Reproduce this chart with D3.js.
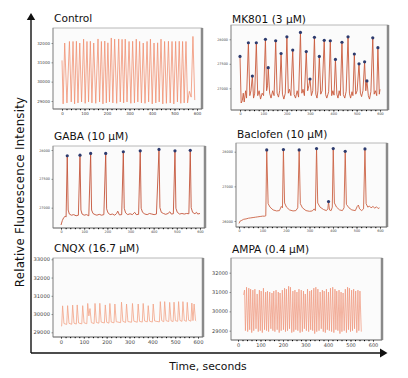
<!DOCTYPE html>
<html>
<head>
<meta charset="utf-8">
<script src="https://cdn.jsdelivr.net/npm/d3@7"></script>
<style>
  html, body { margin: 0; padding: 0; background: #fff; }
  svg { display: block; font-family: "DejaVu Sans", sans-serif; }
</style>
</head>
<body>
<svg id="chart" width="408" height="378"></svg>
<script>
// values, time in seconds, intensity in raw units
const controlPeakT = [12,33,49,64,79,96,111,126,141,160,175,190,204,219,234,252,267,281,298,314,330,345,361,378,393,409,425,440,456,473,489,505,521,536,551,566,582];
const controlPeakV = [32000,32080,32080,32090,32000,32200,32080,32090,32000,32210,32080,32100,32010,32260,32200,32210,32190,32200,32080,32090,32200,32080,32000,32080,32200,32000,32010,32200,32080,32090,32080,32080,32090,32080,32080,29500,32340];
const controlBaseT = [0,5,22,41,56,71,87,103,118,133,150,167,182,197,211,226,243,259,274,289,306,322,337,353,369,385,401,417,432,448,464,481,497,513,528,543,558,574,590];
const controlBaseV = [31100,28850,28900,28950,28850,28900,28950,28880,28950,28900,28880,28950,28850,28900,28950,28900,28880,28950,28900,28950,28880,28900,28950,28900,28880,28950,28850,28900,28950,28850,28880,28900,28850,28950,28880,28900,28900,29200,29050];

const mk801PeakT = [0,36,53,70,109,121,153,176,201,226,259,284,300,319,340,361,387,409,437,463,490,510,534,544,569,591];
const mk801PeakV = [27650,27930,27250,27930,28000,27420,27970,27710,28050,27780,28140,27750,27190,28040,27650,27980,27970,27590,27940,28050,27700,27500,27540,27150,28030,27830];
const mk801BaseT = [5,10,14,18,24,28,42,47,58,63,76,82,88,95,101,114,118,127,133,140,146,159,165,170,182,188,194,207,212,218,232,238,245,251,265,270,276,290,295,306,312,325,330,334,346,352,367,372,380,393,398,403,415,420,425,430,443,449,455,469,474,480,484,496,502,516,521,527,539,550,555,561,575,580,586,597,600];
const mk801BaseV = [26700,26750,26900,26720,26950,26800,26850,26950,26800,26900,26850,26950,26780,26900,26850,26950,27050,26900,26800,26950,26850,26900,26820,26950,26880,26780,26900,26900,26980,26850,26870,26800,26950,26820,26900,26980,26850,26950,27050,26850,26950,26880,26800,26950,26880,26950,26870,26800,26930,26850,26950,26860,26880,26800,26950,26850,26870,26800,26940,26900,26800,26930,26850,26880,26950,26900,26830,26950,26950,26850,26780,26930,26880,26950,26850,26880,26980];

const gabaPeakT = [27,82,128,193,269,342,423,492,558];
const gabaPeakV = [27900,27910,27940,27940,27970,27985,28010,27985,27995];
const gabaBaseT = [0,6,12,18,22,31,36,45,55,65,75,86,91,100,110,120,132,138,147,155,165,175,185,197,203,212,222,232,240,245,252,262,273,279,288,298,308,318,325,335,346,352,362,372,382,392,402,412,427,433,442,452,462,470,476,485,496,502,512,522,532,542,552,562,568,578,585,590,600];
const gabaBaseV = [26700,26780,26830,26850,26840,26960,26890,26870,26880,26860,26870,26960,26890,26870,26880,26860,26960,26900,26880,26870,26885,26870,26880,26980,26910,26880,26890,26870,26900,26940,26875,26880,26990,26910,26880,26895,26880,26920,26880,26885,26990,26920,26890,26880,26900,26890,26880,26890,27000,26920,26900,26885,26900,26930,26890,26895,26990,26920,26890,26900,26890,26900,26895,27000,26920,26895,26920,26890,26900];

const baclofenPeakT = [118,189,256,330,381,401,452,536];
const baclofenPeakV = [28050,28060,28050,28090,26560,28090,28010,28080];
const baclofenBaseT = [0,5,12,20,30,40,50,60,70,80,90,100,110,114,124,132,145,160,172,180,185,194,202,215,230,242,250,261,270,285,300,312,320,325,335,345,360,372,378,385,392,397,406,415,428,440,447,457,468,480,495,503,508,513,522,530,541,548,555,562,570,578,585,592,598];
const baclofenBaseV = [25930,26000,26020,26050,26060,26080,26090,26100,26110,26120,26130,26140,26140,26150,26500,26400,26320,26290,26300,26420,26380,26520,26400,26320,26290,26300,26380,26500,26380,26300,26280,26290,26350,26300,26520,26400,26330,26300,26350,26320,26300,26400,26520,26400,26320,26300,26380,26480,26380,26320,26300,26420,26460,26350,26300,26350,26500,26400,26430,26380,26420,26370,26410,26360,26380];

const cnqxPeakT = [7,29,51,71,95,117,127,149,170,194,214,236,265,287,313,338,360,382,404,435,454,476,495,515,534,553,573,583];
const cnqxPeakV = [30450,30460,30490,30500,30460,30580,30300,30580,30590,30500,30580,30550,30650,30550,30580,30550,30580,30460,30550,30680,30680,30640,30650,30680,30680,30640,30600,30550];
const cnqxBaseT = [0,3,13,25,35,47,57,67,77,91,101,113,122,133,145,155,166,176,190,200,210,220,232,242,261,271,283,293,309,319,334,344,356,366,378,388,400,410,431,441,450,460,472,482,491,501,511,521,530,540,549,559,569,578,589,592];
const cnqxBaseV = [29330,29350,29480,29430,29490,29440,29500,29450,29510,29460,29520,29470,29900,29530,29480,29540,29500,29560,29510,29550,29500,29560,29520,29580,29530,29600,29540,29590,29550,29610,29550,29600,29560,29620,29570,29610,29560,29620,29570,29640,29580,29640,29590,29630,29590,29640,29600,29650,29600,29650,29600,29660,29610,29640,29650,29620];

const ampaPeakT = [29,38,48,56,66,75,85,95,103,113,123,131,141,151,159,169,179,187,197,207,215,225,233,244,253,262,271,281,291,299,309,319,327,337,346,355,365,375,383,393,402,411,421,431,439,449,458,467,477,487,495,505,514,523,533,542];
const ampaPeakV = [31100,31250,31200,31150,31100,31150,30900,31100,31050,31200,31000,31050,31000,30950,31050,31100,31000,30950,31100,31200,31150,31300,31250,31050,31100,31000,31150,31100,31050,30900,31150,31050,31100,31200,31250,31150,31000,31100,31050,31150,31000,31200,31250,31150,31050,31100,31000,30950,31150,31250,31200,31100,31150,31050,31100,31050];
const ampaBaseT = [25,33,43,52,61,70,80,90,99,108,118,127,136,146,155,164,174,183,192,202,211,220,229,239,248,257,266,276,286,295,304,314,323,332,341,350,360,370,379,388,397,406,416,426,435,444,453,462,472,482,491,500,509,518,528,537,548];
const ampaBaseV = [30850,29000,28950,29050,28900,29000,29100,28950,29000,28900,29050,29000,28950,29100,29000,28950,29050,28900,29000,29050,28950,29000,29100,28900,28950,29050,29000,28900,28950,29100,29000,28950,29050,29000,28850,28950,29000,29100,28950,28900,29050,29000,28950,28900,29050,29000,28850,28950,29000,28900,29050,28950,29000,29100,28900,29000,28950];

const timeTicks = [0,100,200,300,400,500,600];
const controlTicks = [32000,31000,30000,29000];
const mk801Ticks = [28000,27500,27000];
const gabaTicks = [28000,27500,27000];
const baclofenTicks = [28000,27000,26000];
const cnqxTicks = [33000,32000,31000,30000,29000];
const ampaTicks = [32000,31000,30000,29000];

const panels = [
  { title: "Control", pt: controlPeakT, pv: controlPeakV, bt: controlBaseT, bv: controlBaseV, ticks: controlTicks,
    dots: false, color: "#f08c6c", lw: 0.75,
    frame: [53, 28, 202, 109], xr: [62, 197], ya: [32000, 43], yb: [29000, 101], titleY: 22, tickFont: 4 },
  { title: "MK801 (3 µM)", pt: mk801PeakT, pv: mk801PeakV, bt: mk801BaseT, bv: mk801BaseV, ticks: mk801Ticks,
    dots: true, color: "#c95a3c", lw: 0.9,
    frame: [231, 25, 388, 110], xr: [240, 380], ya: [28000, 39.3], yb: [27000, 88.3], titleY: 22.5, tickFont: 3.4 },
  { title: "GABA (10 µM)", pt: gabaPeakT, pv: gabaPeakV, bt: gabaBaseT, bv: gabaBaseV, ticks: gabaTicks,
    dots: true, color: "#c4553a", lw: 0.9,
    frame: [53, 146, 205, 228], xr: [61, 200], ya: [28000, 150], yb: [27000, 207.7], titleY: 139.5, tickFont: 3.4 },
  { title: "Baclofen (10 µM)", pt: baclofenPeakT, pv: baclofenPeakV, bt: baclofenBaseT, bv: baclofenBaseV, ticks: baclofenTicks,
    dots: true, color: "#cc6345", lw: 0.9,
    frame: [236, 143, 387, 227], xr: [239, 380], ya: [28000, 151.7], yb: [26000, 221], titleY: 138, tickFont: 3.4 },
  { title: "CNQX (16.7 µM)", pt: cnqxPeakT, pv: cnqxPeakV, bt: cnqxBaseT, bv: cnqxBaseV, ticks: cnqxTicks,
    dots: false, color: "#f2a387", lw: 0.8,
    frame: [53, 258, 203, 337], xr: [61, 198], ya: [33000, 259.3], yb: [29000, 332.3], titleY: 252, tickFont: 5.2 },
  { title: "AMPA (0.4 µM)", pt: ampaPeakT, pv: ampaPeakV, bt: ampaBaseT, bv: ampaBaseV, ticks: ampaTicks,
    dots: false, color: "#ef9478", lw: 0.7,
    frame: [231, 258, 382, 340], xr: [238, 373], ya: [32000, 272.7], yb: [29000, 330.7], titleY: 253, tickFont: 5 }
];

const svg = d3.select("#chart");

function tracePoints(p) {
  const peaks = p.pt.map((t, i) => [t, p.pv[i]]);
  const base = p.bt.map((t, i) => [t, p.bv[i]]);
  return peaks.concat(base).sort((a, b) => a[0] - b[0]);
}

panels.forEach((p) => {
  const [fx0, fy0, fx1, fy1] = p.frame;
  const x = d3.scaleLinear().domain([0, 600]).range(p.xr);
  const y = d3.scaleLinear().domain([p.ya[0], p.yb[0]]).range([p.ya[1], p.yb[1]]);
  const g = svg.append("g");

  g.append("text")
    .attr("x", fx0 + 1)
    .attr("y", p.titleY)
    .attr("font-size", 10.6)
    .attr("fill", "#111")
    .text(p.title);

  g.append("rect")
    .attr("x", fx0).attr("y", fy0)
    .attr("width", fx1 - fx0).attr("height", fy1 - fy0)
    .attr("fill", "#fbfbfb")
    .attr("stroke", "#a8a8a8")
    .attr("stroke-width", 0.8);

  g.append("line")
    .attr("x1", fx1).attr("x2", fx1)
    .attr("y1", fy0).attr("y2", fy1)
    .attr("stroke", "#8a8a8a")
    .attr("stroke-width", 2.5);

  // minor ticks first, then the labelled ones
  const xMinor = d3.axisBottom(x).tickValues(d3.range(0, 601, 20)).tickSize(1.2).tickFormat("");
  g.append("g").attr("transform", `translate(0,${fy1})`).call(xMinor)
    .call((a) => a.select(".domain").attr("stroke", "#666").attr("stroke-width", 0.8)
      .attr("d", `M${fx0},0H${fx1}`));
  g.append("g").attr("transform", `translate(0,${fy1})`)
    .call(d3.axisBottom(x).tickValues(timeTicks).tickSize(2).tickPadding(1))
    .call((a) => a.select(".domain").remove())
    .call((a) => a.selectAll("line").attr("stroke", "#555").attr("stroke-width", 0.6))
    .call((a) => a.selectAll("text").attr("font-size", p.tickFont).attr("fill", "#444")
      .attr("font-family", "DejaVu Sans"));

  g.append("g").attr("transform", `translate(${fx0},0)`)
    .call(d3.axisLeft(y).tickValues(p.ticks).tickSize(1.5).tickPadding(1.5).tickFormat(d3.format("d")))
    .call((a) => a.select(".domain").attr("stroke", "#777").attr("stroke-width", 0.6)
      .attr("d", `M0,${fy0}V${fy1}`))
    .call((a) => a.selectAll("line").attr("stroke", "#555").attr("stroke-width", 0.6))
    .call((a) => a.selectAll("text").attr("font-size", p.tickFont).attr("fill", "#444")
      .attr("font-family", "DejaVu Sans"));

  const line = d3.line().x((d) => x(d[0])).y((d) => y(d[1]));
  g.append("path")
    .datum(tracePoints(p))
    .attr("d", line)
    .attr("fill", "none")
    .attr("stroke", p.color)
    .attr("stroke-width", p.lw)
    .attr("stroke-linejoin", "round");

  if (p.dots) {
    g.selectAll("circle")
      .data(p.pt.map((t, i) => [t, p.pv[i]]))
      .join("circle")
      .attr("cx", (d) => x(d[0]))
      .attr("cy", (d) => y(d[1]))
      .attr("r", 1.6)
      .attr("fill", "#2d3b6e");
  }
});

// outer arrows
svg.append("line").attr("x1", 31).attr("x2", 31).attr("y1", 18).attr("y2", 353)
  .attr("stroke", "#111").attr("stroke-width", 1.4);
svg.append("line").attr("x1", 31).attr("x2", 381).attr("y1", 353).attr("y2", 353)
  .attr("stroke", "#111").attr("stroke-width", 1.4);
svg.append("path").attr("d", "M31,13L26.8,20L35.2,20Z").attr("fill", "#111");
svg.append("path").attr("d", "M387.5,353L380,348.5L380,357.5Z").attr("fill", "#111");

svg.append("text")
  .attr("transform", "translate(24,192) rotate(-90)")
  .attr("text-anchor", "middle")
  .attr("font-size", 11.8)
  .attr("letter-spacing", 0.2)
  .attr("fill", "#111")
  .text("Relative Fluorescence Intensity");

svg.append("text")
  .attr("x", 208).attr("y", 370)
  .attr("text-anchor", "middle")
  .attr("font-size", 10.8)
  .attr("fill", "#111")
  .text("Time, seconds");
</script>
</body>
</html>
